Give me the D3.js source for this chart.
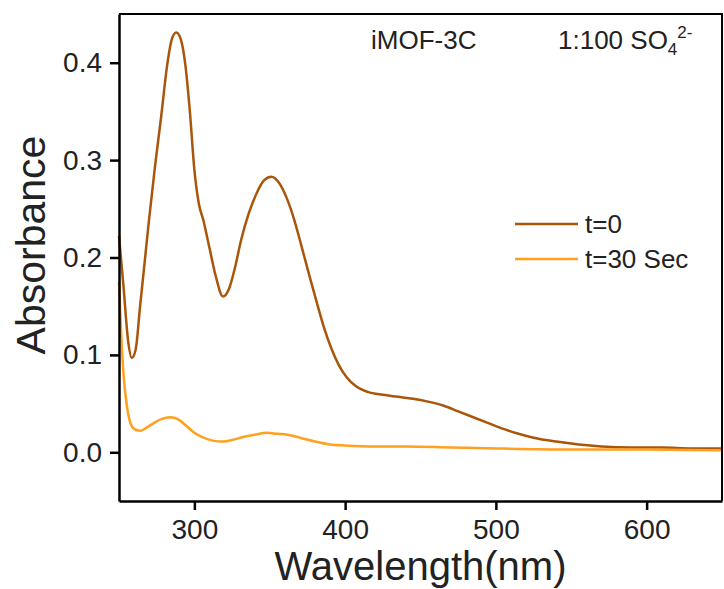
<!DOCTYPE html>
<html>
<head>
<meta charset="utf-8">
<script src="https://cdn.jsdelivr.net/npm/d3@7"></script>
<style>
  body { margin: 0; background: #fff; }
  svg text { font-family: "Liberation Sans", Arial, sans-serif; fill: #222; }
</style>
</head>
<body>
<svg id="chart" width="724" height="589"></svg>
<script>
// t=0 spectrum (wavelength nm, absorbance)
var wl0 = [250, 253, 256, 258.5, 261, 264, 267, 270, 274, 278, 282, 285, 288, 291, 294, 297, 300, 303, 306, 310, 314, 319, 323, 327, 331, 336, 341, 346, 351, 356, 361, 366, 371, 376, 381, 386, 391, 396, 401, 407, 415, 425, 435, 445, 455, 465, 475, 485, 495, 505, 515, 525, 540, 555, 570, 590, 610, 630, 650]
var abs0 = [0.222, 0.17, 0.115, 0.097, 0.105, 0.150, 0.195, 0.240, 0.295, 0.345, 0.398, 0.424, 0.431, 0.424, 0.398, 0.35, 0.29, 0.255, 0.238, 0.21, 0.182, 0.160, 0.168, 0.19, 0.218, 0.245, 0.265, 0.279, 0.283, 0.277, 0.262, 0.24, 0.212, 0.183, 0.155, 0.128, 0.106, 0.089, 0.077, 0.068, 0.062, 0.059, 0.057, 0.055, 0.052, 0.048, 0.042, 0.036, 0.030, 0.024, 0.019, 0.015, 0.011, 0.008, 0.006, 0.005, 0.005, 0.004, 0.004]

// t=30 Sec spectrum
var wl30 = [250, 251.5, 253, 255, 257, 260, 264, 268, 273, 278, 284, 289, 294, 300, 306, 312, 319, 326, 333, 340, 348, 355, 362, 370, 380, 390, 400, 420, 440, 470, 500, 550, 600, 650]
var abs30 = [0.175, 0.12, 0.08, 0.05, 0.033, 0.024, 0.022, 0.025, 0.030, 0.034, 0.036, 0.034, 0.028, 0.020, 0.015, 0.012, 0.011, 0.013, 0.016, 0.018, 0.020, 0.019, 0.018, 0.015, 0.011, 0.008, 0.007, 0.006, 0.006, 0.005, 0.004, 0.003, 0.003, 0.002]

var seriesNames = ["t=0", "t=30 Sec"]
var seriesColors = ["#a9560b", "#ffa01f"]
var xTicks = [300, 400, 500, 600]
var yTicks = [0.0, 0.1, 0.2, 0.3, 0.4]

// plot box (top is taken by window.top, so use other names)
var plotL = 119, plotR = 722, plotT = 14, plotB = 501

var x = d3.scaleLinear().domain([250, 650]).range([plotL, plotR])
var y = d3.scaleLinear().domain([-0.05, 0.45]).range([plotB, plotT])

var svg = d3.select("#chart")

var series = [d3.zip(wl0, abs0), d3.zip(wl30, abs30)]

var line = d3.line()
    .x(function(d) { return x(d[0]) })
    .y(function(d) { return y(d[1]) })
    .curve(d3.curveMonotoneX)

svg.selectAll("path.spec")
    .data(series)
    .enter()
    .append("path")
    .attr("class", "spec")
    .attr("d", line)
    .attr("fill", "none")
    .attr("stroke", function(d, i) { return seriesColors[i] })
    .attr("stroke-width", 2.5)

// frame top / right
svg.append("path")
    .attr("d", "M" + plotL + "," + plotT + "H" + plotR + "V" + plotB)
    .attr("fill", "none")
    .attr("stroke", "#000")
    .attr("stroke-width", 2)

// axes
var xAxis = d3.axisBottom(x).tickValues(xTicks).tickSize(9).tickSizeOuter(0).tickPadding(9)
var gx = svg.append("g").attr("transform", "translate(0," + plotB + ")").call(xAxis)

var yAxis = d3.axisLeft(y).tickValues(yTicks).tickSize(9).tickSizeOuter(0).tickPadding(8)
    .tickFormat(d3.format(".1f"))
var gy = svg.append("g").attr("transform", "translate(" + plotL + ",0)").call(yAxis)

;[gx, gy].forEach(function(g) {
    g.selectAll("path.domain").attr("stroke", "#000").attr("stroke-width", 2.5)
    g.selectAll(".tick line").attr("stroke", "#000").attr("stroke-width", 2.5)
    g.selectAll(".tick text").style("font-size", "28px").style("font-family", "'Liberation Sans', Arial, sans-serif").attr("fill", "#222")
})

// axis titles
svg.append("text")
    .attr("x", (plotL + plotR) / 2)
    .attr("y", 580)
    .attr("text-anchor", "middle")
    .style("font-size", "40px")
    .text("Wavelength(nm)")

svg.append("text")
    .attr("transform", "translate(45,245) rotate(-90)")
    .attr("text-anchor", "middle")
    .style("font-size", "41px")
    .text("Absorbance")

// annotations
svg.append("text")
    .attr("x", 371)
    .attr("y", 49)
    .style("font-size", "26px")
    .text("iMOF-3C")

var ann = svg.append("text")
    .attr("x", 558)
    .attr("y", 49)
    .style("font-size", "26px")
ann.append("tspan").text("1:100 SO")
ann.append("tspan").attr("dy", 6).style("font-size", "17px").text("4")
ann.append("tspan").attr("dy", -17).style("font-size", "17px").text("2-")

// legend
var legend = svg.selectAll("g.leg")
    .data(seriesNames)
    .enter()
    .append("g")
    .attr("class", "leg")
    .attr("transform", function(d, i) { return "translate(515," + (224 + i * 35) + ")" })

legend.append("line")
    .attr("x1", 0).attr("x2", 63)
    .attr("stroke", function(d, i) { return seriesColors[i] })
    .attr("stroke-width", 2.5)

legend.append("text")
    .attr("x", 70)
    .attr("y", 9)
    .style("font-size", "26px")
    .text(function(d) { return d })
</script>
</body>
</html>
